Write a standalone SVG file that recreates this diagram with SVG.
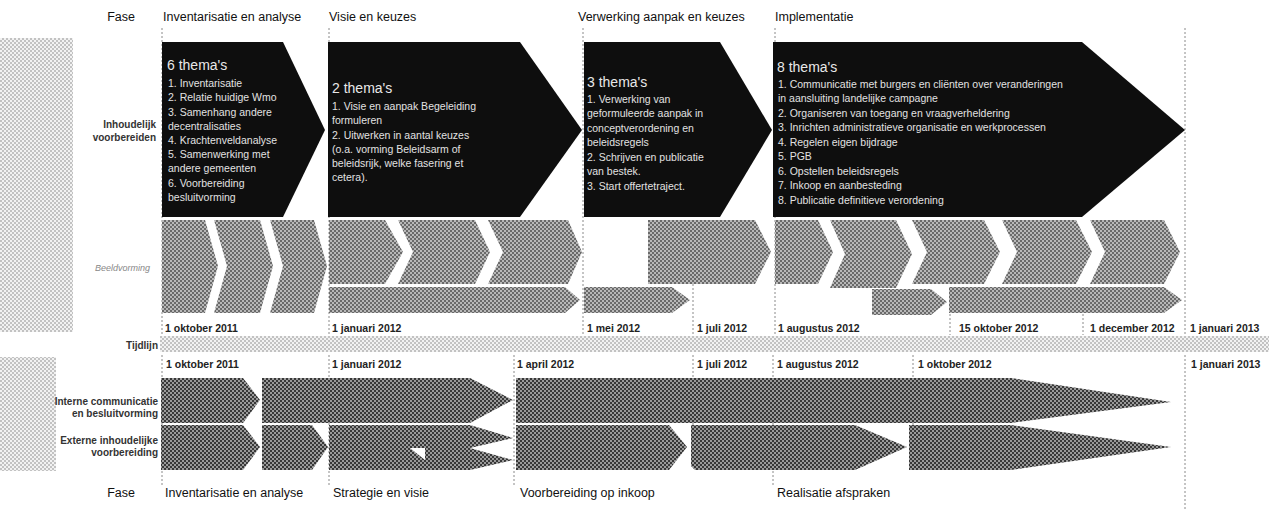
<svg xmlns="http://www.w3.org/2000/svg" width="1269" height="520" viewBox="0 0 1269 520">
<defs>
<pattern id="pGray" width="4" height="4" patternUnits="userSpaceOnUse"><rect width="4" height="4" fill="#b8b8b8"/><rect width="2" height="2" fill="#6a6a6a"/><rect x="2" y="2" width="2" height="2" fill="#6a6a6a"/></pattern>
<pattern id="pDark" width="4" height="4" patternUnits="userSpaceOnUse"><rect width="4" height="4" fill="#9a9a9a"/><rect width="2" height="2" fill="#383838"/><rect x="2" y="2" width="2" height="2" fill="#383838"/></pattern>
<pattern id="pLight" width="4" height="4" patternUnits="userSpaceOnUse"><rect width="4" height="4" fill="#f2f2f2"/><rect width="2" height="2" fill="#c2c2c2"/><rect x="2" y="2" width="2" height="2" fill="#c2c2c2"/></pattern>
</defs>
<style>
.hdr{font-family:"Liberation Sans",Arial,sans-serif;font-size:12.5px;fill:#111}
.date{font-family:"Liberation Sans",Arial,sans-serif;font-size:10.5px;font-weight:bold;fill:#222}
.lbl{font-family:"Liberation Sans",Arial,sans-serif;font-size:10px;font-weight:bold;fill:#333;text-anchor:end}
.lblg{font-family:"Liberation Sans",Arial,sans-serif;font-size:9px;font-style:italic;fill:#888;text-anchor:end}
.ttl{font-family:"Liberation Sans",Arial,sans-serif;font-size:14px;fill:#e8e8e8}
.at{font-family:"Liberation Sans",Arial,sans-serif;font-size:10.5px;fill:#e2e2e2}
.blk{fill:#0e0e0e}
.gry{fill:url(#pGray)}
.drk{fill:url(#pDark)}
.dash{stroke:#8a8a8a;stroke-width:1;stroke-dasharray:2 2;fill:none}
</style>
<rect width="1269" height="520" fill="#ffffff"/>
<g id="panels">
<rect x="0" y="38" width="73" height="294" fill="url(#pLight)"/>
<rect x="0" y="357" width="56" height="114" fill="url(#pLight)"/>
<rect x="160" y="336" width="1109" height="16" fill="url(#pLight)"/>
</g>
<g id="connectors">
<path class="dash" d="M162 28V335M329 28V335M583 28V335M693 284V335M775 28V335M950 290V335M1083 290V335M1185 28V335"/>
<path class="dash" d="M162 355V485M329 355V485M514 355V485M693 355V430M773 355V485M913 355V430M1185 355V510"/>
</g>
<g id="header-top">
<text class="hdr" x="135" y="21" text-anchor="end">Fase</text>
<text class="hdr" x="163" y="21">Inventarisatie en analyse</text>
<text class="hdr" x="329" y="21">Visie en keuzes</text>
<text class="hdr" x="578" y="21">Verwerking aanpak en keuzes</text>
<text class="hdr" x="775" y="21">Implementatie</text>
</g>
<g id="labels">
<text class="lbl" x="156" y="128">Inhoudelijk</text>
<text class="lbl" x="156" y="141">voorbereiden</text>
<text class="lblg" x="150" y="271">Beeldvorming</text>
<text class="lbl" x="158" y="349">Tijdlijn</text>
<text class="lbl" x="158" y="405">Interne communicatie</text>
<text class="lbl" x="158" y="417">en besluitvorming</text>
<text class="lbl" x="158" y="444">Externe inhoudelijke</text>
<text class="lbl" x="158" y="456">voorbereiding</text>
</g>
<g id="arrow1">
<polygon class="blk" points="162,42 283,42 325,130 283,217 162,217"/>
<text class="ttl" x="167" y="70">6 thema's</text>
<text class="at" x="168" y="87">1. Inventarisatie</text>
<text class="at" x="168" y="101">2. Relatie huidige Wmo</text>
<text class="at" x="168" y="115.5">3. Samenhang andere</text>
<text class="at" x="168" y="129.5">decentralisaties</text>
<text class="at" x="168" y="144">4. Krachtenveldanalyse</text>
<text class="at" x="168" y="158">5. Samenwerking met</text>
<text class="at" x="168" y="172">andere gemeenten</text>
<text class="at" x="168" y="186.5">6. Voorbereiding</text>
<text class="at" x="168" y="200.5">besluitvorming</text>
</g>
<g id="arrow2">
<polygon class="blk" points="328,42 520,42 582,130 520,217 328,217"/>
<text class="ttl" x="332" y="93">2 thema's</text>
<text class="at" x="332" y="109.5">1. Visie en aanpak Begeleiding</text>
<text class="at" x="332" y="124">formuleren</text>
<text class="at" x="332" y="138.5">2. Uitwerken in aantal keuzes</text>
<text class="at" x="332" y="153">(o.a. vorming Beleidsarm of</text>
<text class="at" x="332" y="167">beleidsrijk, welke fasering et</text>
<text class="at" x="332" y="181">cetera).</text>
</g>
<g id="arrow3">
<polygon class="blk" points="584,42 720,42 772,130 720,217 584,217"/>
<text class="ttl" x="587" y="87">3 thema's</text>
<text class="at" x="587" y="102.5">1. Verwerking van</text>
<text class="at" x="587" y="117">geformuleerde aanpak in</text>
<text class="at" x="587" y="131.5">conceptverordening en</text>
<text class="at" x="587" y="146">beleidsregels</text>
<text class="at" x="587" y="160.5">2. Schrijven en publicatie</text>
<text class="at" x="587" y="175">van bestek.</text>
<text class="at" x="587" y="189.5">3. Start offertetraject.</text>
</g>
<g id="arrow4">
<polygon class="blk" points="773,42 1082,42 1185,130 1082,217 773,217"/>
<text class="ttl" x="777" y="72">8 thema's</text>
<text class="at" x="778" y="87.5">1. Communicatie met burgers en cliënten over veranderingen</text>
<text class="at" x="778" y="102">in aansluiting landelijke campagne</text>
<text class="at" x="778" y="116.5">2. Organiseren van toegang en vraagverheldering</text>
<text class="at" x="778" y="131">3. Inrichten administratieve organisatie en werkprocessen</text>
<text class="at" x="778" y="145.5">4. Regelen eigen bijdrage</text>
<text class="at" x="778" y="160">5. PGB</text>
<text class="at" x="778" y="174.5">6. Opstellen beleidsregels</text>
<text class="at" x="778" y="189">7. Inkoop en aanbesteding</text>
<text class="at" x="778" y="203.5">8. Publicatie definitieve verordening</text>
</g>
<g id="grey-group1">
<polygon class="gry" points="162,220 205,220 218,266 205,313 162,313"/>
<polygon class="gry" points="214,220 260,220 273,266 260,313 214,313 227,266"/>
<polygon class="gry" points="270,220 314,220 327,266 314,313 270,313 283,266"/>
</g>
<g id="grey-group2">
<polygon class="gry" points="329,220 385,220 403,252 385,284 329,284"/>
<polygon class="gry" points="398,220 475,220 490,252 475,284 398,284 413,252"/>
<polygon class="gry" points="488,220 568,220 582,252 568,284 488,284 503,252"/>
<polygon class="gry" points="329,287 565,287 580,300 565,313 329,313"/>
</g>
<g id="grey-group3">
<polygon class="gry" points="648,220 755,220 771,252 755,284 648,284"/>
<polygon class="gry" points="584,287 672,287 690,300 672,313 584,313"/>
</g>
<g id="grey-group4">
<polygon class="gry" points="775,220 818,220 833,252 818,284 775,284"/>
<polygon class="gry" points="830,220 896,220 912,254 896,288 830,288 845,254"/>
<polygon class="gry" points="912,220 984,220 1000,252 984,284 912,284 927,252"/>
<polygon class="gry" points="1002,220 1076,220 1092,252 1076,284 1002,284 1017,252"/>
<polygon class="gry" points="1090,220 1164,220 1180,252 1164,284 1090,284 1105,252"/>
<polygon class="gry" points="872,289 931,289 947,302 931,315 872,315"/>
<polygon class="gry" points="949,287 1164,287 1182,300 1164,313 949,313"/>
</g>
<g id="dates-top">
<text class="date" x="165" y="332">1 oktober 2011</text>
<text class="date" x="332" y="332">1 januari 2012</text>
<text class="date" x="587" y="332">1 mei 2012</text>
<text class="date" x="697" y="332">1 juli 2012</text>
<text class="date" x="778" y="332">1 augustus 2012</text>
<text class="date" x="959" y="332">15 oktober 2012</text>
<text class="date" x="1090" y="332">1 december 2012</text>
<text class="date" x="1190" y="332">1 januari 2013</text>
</g>
<g id="dates-bottom">
<text class="date" x="166" y="368">1 oktober 2011</text>
<text class="date" x="332" y="368">1 januari 2012</text>
<text class="date" x="517" y="368">1 april 2012</text>
<text class="date" x="697" y="368">1 juli 2012</text>
<text class="date" x="777" y="368">1 augustus 2012</text>
<text class="date" x="918" y="368">1 oktober 2012</text>
<text class="date" x="1191" y="368">1 januari 2013</text>
</g>
<g id="row-communicatie">
<polygon class="drk" points="161,378 243,378 260,400 243,423 161,423"/>
<polygon class="drk" points="262,378 470,378 513,400 470,423 262,423"/>
<polygon class="drk" points="516,378 1011,378 1171,402 1011,423 516,423"/>
</g>
<g id="row-inhoudelijk">
<polygon class="drk" points="161,425 243,425 260,447 243,470 161,470"/>
<polygon class="drk" points="262,425 312,425 328,447 312,470 262,470"/>
<polygon class="drk" points="329,425 470,425 513,438 470,448 410,448 425,460 425,470 329,470"/>
<polygon class="drk" points="425,448 470,448 513,460 470,470 425,470"/>
<polygon class="drk" points="516,425 669,425 687,447 669,470 516,470"/>
<polygon class="drk" points="691,425 855,425 907,447 855,470 695,470 691,466"/>
<polygon class="drk" points="909,425 1011,425 1171,447 1011,470 909,470"/>
</g>
<g id="header-bottom">
<text class="hdr" x="135" y="497" text-anchor="end">Fase</text>
<text class="hdr" x="165" y="497">Inventarisatie en analyse</text>
<text class="hdr" x="333" y="497">Strategie en visie</text>
<text class="hdr" x="520" y="497">Voorbereiding op inkoop</text>
<text class="hdr" x="777" y="497">Realisatie afspraken</text>
</g>
</svg>
